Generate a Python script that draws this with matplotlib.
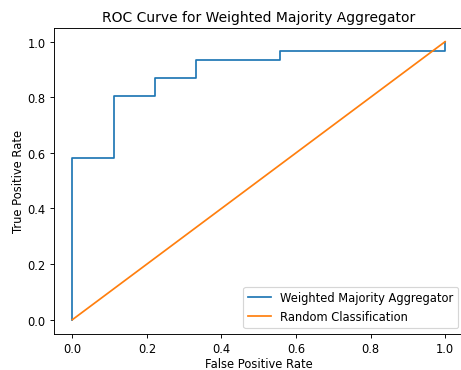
import matplotlib
matplotlib.use("Agg")
import matplotlib.pyplot as plt

# ROC points (corner points of the step curve)
fpr = [0.0, 0.0, 0.111, 0.111, 0.222, 0.222, 0.333, 0.333, 0.556, 0.556, 1.0, 1.0]
tpr = [0.0, 0.581, 0.581, 0.806, 0.806, 0.871, 0.871, 0.935, 0.935, 0.968, 0.968, 1.0]

# diagonal reference line
rand_x = [0.0, 1.0]
rand_y = [0.0, 1.0]

DPI = 83
fig = plt.figure(figsize=(461/DPI, 371/DPI), dpi=DPI)
ax = fig.add_axes([0.1165, 0.0981, 0.8894, 0.8243])

ax.plot(fpr, tpr, color='tab:blue', label='Weighted Majority Aggregator')
ax.plot(rand_x, rand_y, color='tab:orange', label='Random Classification')

ax.set_xlim(-0.05, 1.05)
ax.set_ylim(-0.05, 1.05)
ax.set_xlabel('False Positive Rate', labelpad=2.2)
ax.set_ylabel('True Positive Rate', labelpad=2.5)
ax.set_title('ROC Curve for Weighted Majority Aggregator')
ax.legend(loc='lower right')

fig.savefig('out.png', dpi=DPI)
